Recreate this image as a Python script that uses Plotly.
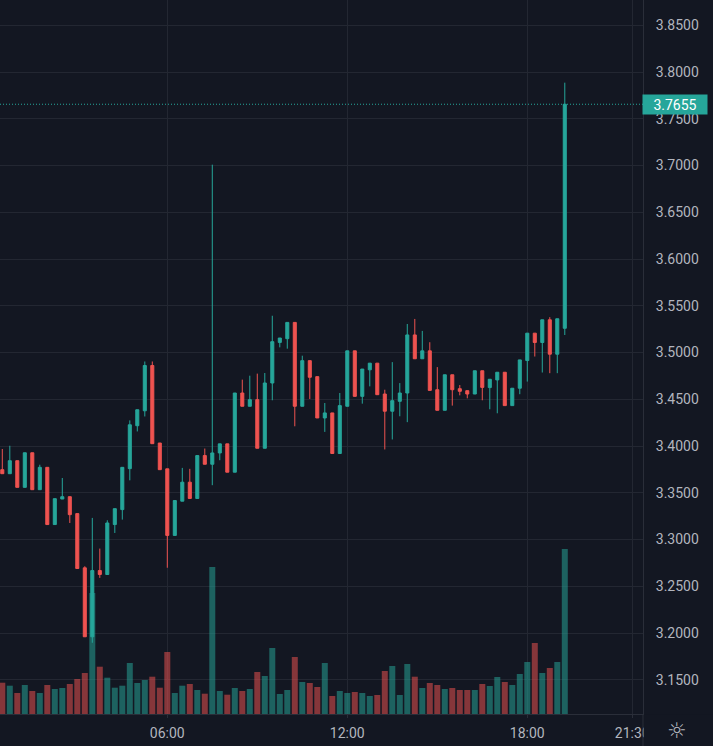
import pandas as pd
import plotly.graph_objects as go

# ---- data (15-minute candles) ----
times = pd.date_range("2024-01-10 00:30", periods=76, freq="15min")

opens = [3.3747, 3.3704, 3.3843, 3.3558, 3.3928, 3.3533, 3.3772, 3.3160, 3.3433, 3.3458,
         3.3277, 3.2697, 3.1960, 3.2668, 3.2626, 3.3160, 3.3320, 3.3758, 3.4217, 3.4377,
         3.4861, 3.4032, 3.3756, 3.3044, 3.3410, 3.3613, 3.3439, 3.3898, 3.3805, 3.3926,
         3.4023, 3.3720, 3.4567, 3.4425, 3.4496, 3.3976, 3.4674, 3.5108, 3.5148, 3.5322,
         3.4425, 3.4913, 3.4742, 3.4300, 3.4354, 3.3920, 3.4425, 3.5018, 3.4531, 3.4815,
         3.4886, 3.4556, 3.4372, 3.4478, 3.4567, 3.5188, 3.4933, 3.5018, 3.4602, 3.4382,
         3.4762, 3.4613, 3.4592, 3.4556, 3.4805, 3.4625, 3.4707, 3.4789, 3.4432, 3.4618,
         3.4914, 3.5207, 3.5107, 3.5350, 3.4982, 3.5259]
highs = [3.3968, 3.4003, 3.3843, 3.3928, 3.3928, 3.3800, 3.3772, 3.3437, 3.3658, 3.3458,
         3.3277, 3.2714, 3.3231, 3.2903, 3.3206, 3.3330, 3.3772, 3.4274, 3.4388, 3.4904,
         3.4904, 3.4032, 3.3756, 3.3417, 3.3766, 3.3756, 3.3898, 3.3973, 3.7009, 3.4023,
         3.4023, 3.4567, 3.4710, 3.4752, 3.4774, 3.4781, 3.5393, 3.5155, 3.5322, 3.5322,
         3.4966, 3.4913, 3.4742, 3.4460, 3.4354, 3.4567, 3.5018, 3.5018, 3.4823, 3.4886,
         3.4886, 3.4602, 3.4897, 3.4673, 3.5305, 3.5359, 3.5231, 3.5110, 3.4844, 3.4762,
         3.4762, 3.4652, 3.4592, 3.4805, 3.4805, 3.4714, 3.4789, 3.4789, 3.4618, 3.4921,
         3.5207, 3.5207, 3.5350, 3.5378, 3.5361, 3.7886]
lows = [3.3704, 3.3704, 3.3558, 3.3558, 3.3533, 3.3533, 3.3160, 3.3160, 3.3433, 3.3177,
        3.2690, 3.1960, 3.1896, 3.2590, 3.2626, 3.3070, 3.3213, 3.3633, 3.4156, 3.4316,
        3.4025, 3.3747, 3.2698, 3.3044, 3.3410, 3.3439, 3.3439, 3.3805, 3.3581, 3.3848,
        3.3720, 3.3720, 3.4425, 3.4425, 3.3976, 3.3976, 3.4489, 3.5055, 3.5041, 3.4211,
        3.4425, 3.4503, 3.4300, 3.4151, 3.3920, 3.3920, 3.4425, 3.4531, 3.4453, 3.4638,
        3.4549, 3.3963, 3.4070, 3.4318, 3.4255, 3.4933, 3.4933, 3.4595, 3.4382, 3.4382,
        3.4432, 3.4542, 3.4510, 3.4556, 3.4489, 3.4393, 3.4350, 3.4432, 3.4432, 3.4554,
        3.4689, 3.4957, 3.4786, 3.4779, 3.4779, 3.5187]
closes = [3.3704, 3.3843, 3.3558, 3.3928, 3.3533, 3.3772, 3.3160, 3.3437, 3.3458, 3.3266,
          3.2690, 3.1960, 3.2668, 3.2626, 3.3177, 3.3330, 3.3772, 3.4227, 3.4388, 3.4861,
          3.4025, 3.3747, 3.3044, 3.3417, 3.3613, 3.3439, 3.3898, 3.3805, 3.3926, 3.4023,
          3.3720, 3.4567, 3.4425, 3.4496, 3.3976, 3.4674, 3.5116, 3.5155, 3.5322, 3.4425,
          3.4913, 3.4735, 3.4300, 3.4354, 3.3920, 3.4432, 3.5018, 3.4531, 3.4823, 3.4886,
          3.4549, 3.4372, 3.4485, 3.4567, 3.5188, 3.4933, 3.5018, 3.4595, 3.4382, 3.4762,
          3.4602, 3.4585, 3.4556, 3.4805, 3.4627, 3.4714, 3.4789, 3.4432, 3.4618, 3.4921,
          3.5207, 3.5107, 3.5350, 3.4982, 3.5361, 3.7655]
# volume (thousands)
volumes = [31.3, 28.3, 21, 29, 23, 21, 29, 25, 26, 30,
           35, 41, 121, 47.3, 36.3, 26.3, 28.3, 51, 31, 34,
           37.3, 26.3, 62, 21, 28.3, 30, 24, 20.3, 147, 23,
           19.3, 26, 23, 25, 42, 38, 66, 20, 24, 57,
           32, 31, 27, 51, 18, 23, 21, 22, 21, 18,
           19, 43, 48, 19, 50, 37.3, 26, 31, 29, 25,
           26, 24, 24, 24, 30, 28, 37, 32, 29, 40,
           52, 71, 41, 46, 52, 165]

last_price = closes[-1]
tick_times = ["2024-01-10 06:00", "2024-01-10 12:00", "2024-01-10 18:00", "2024-01-10 21:30"]
tick_labels = ["06:00", "12:00", "18:00", "21:30"]

# ---- style ----
BG = "#131722"
GRID = "#232732"
AXLINE = "#2a2e39"
TXT = "#b2b5be"
UP = "#26a69a"
DOWN = "#ef5350"
UP_VOL = "rgba(38,166,154,0.52)"
DOWN_VOL = "rgba(239,83,80,0.52)"
FONT = "Roboto"

vol_colors = [UP_VOL if c >= o else DOWN_VOL for o, c in zip(opens, closes)]

fig = go.Figure()
fig.add_trace(go.Bar(x=times, y=volumes, marker=dict(color=vol_colors, line=dict(width=0)),
                     yaxis="y", hoverinfo="skip", showlegend=False))
fig.add_trace(go.Candlestick(x=times, open=opens, high=highs, low=lows, close=closes,
                             yaxis="y2", whiskerwidth=0,
                             increasing=dict(line=dict(color=UP, width=1), fillcolor=UP),
                             decreasing=dict(line=dict(color=DOWN, width=1), fillcolor=DOWN),
                             showlegend=False, hoverinfo="skip"))

W, H = 713, 746
ML, MR, MT, MB = 0, 70, 0, 32
PW = W - ML - MR
PH = H - MT - MB

fig.update_layout(
    width=W, height=H,
    margin=dict(l=ML, r=MR, t=MT, b=MB, pad=0),
    paper_bgcolor=BG, plot_bgcolor=BG,
    bargap=0.2, boxgap=0.42,
    font=dict(family=FONT, size=14, color=TXT),
    xaxis=dict(
        type="date",
        range=["2024-01-10 00:25:24", "2024-01-10 21:51:26"],
        rangeslider=dict(visible=False),
        tickvals=tick_times, ticktext=tick_labels,
        showgrid=True, gridcolor=GRID, gridwidth=1,
        showline=True, linecolor=AXLINE, linewidth=1,
        ticks="outside", ticklen=3, tickcolor=AXLINE,
        ticklabelstandoff=3,
        zeroline=False, fixedrange=True,
    ),
    yaxis=dict(range=[0, PH], visible=False, showgrid=False, fixedrange=True),
    yaxis2=dict(
        overlaying="y", side="right", anchor="x",
        range=[3.1134, 3.8770], tick0=3.0, dtick=0.05, tickformat=".4f",
        showgrid=True, gridcolor=GRID, gridwidth=1,
        showline=True, linecolor=AXLINE, linewidth=1,
        ticks="", ticklabelstandoff=9,
        zeroline=False, fixedrange=True,
    ),
)

# last price dotted line
fig.add_shape(type="line", xref="paper", yref="y2", x0=0, x1=1, y0=last_price, y1=last_price,
              line=dict(color=UP, width=1, dash="1px,2px"), layer="above")
# cover the time-axis strip under the price scale, and the separator there
fig.add_shape(type="rect", xref="paper", yref="paper", x0=1.0015, x1=W / PW + 0.01,
              y0=-MB / PH - 0.01, y1=-0.001, fillcolor=BG, line=dict(width=0), layer="above")
fig.add_shape(type="line", xref="paper", yref="paper", x0=1, x1=1, y0=-MB / PH - 0.01, y1=0,
              line=dict(color=AXLINE, width=1), layer="above")

# last price label
fig.add_annotation(x=1, xref="paper", y=last_price, yref="y2", xanchor="left", yanchor="middle",
                   text=f"{last_price:.4f}", showarrow=False, bgcolor=UP,
                   font=dict(family=FONT, size=14, color="#ffffff"),
                   width=60, height=15, borderpad=2, align="center", xshift=-1)
# settings icon
fig.add_annotation(x=(677 - ML) / PW, xref="paper", y=(PH - 731 + MT) / PH, yref="paper",
                   text="☼", showarrow=False, font=dict(family="DejaVu Sans", size=22, color=TXT),
                   xanchor="center", yanchor="middle")

fig.write_html("out.html")
